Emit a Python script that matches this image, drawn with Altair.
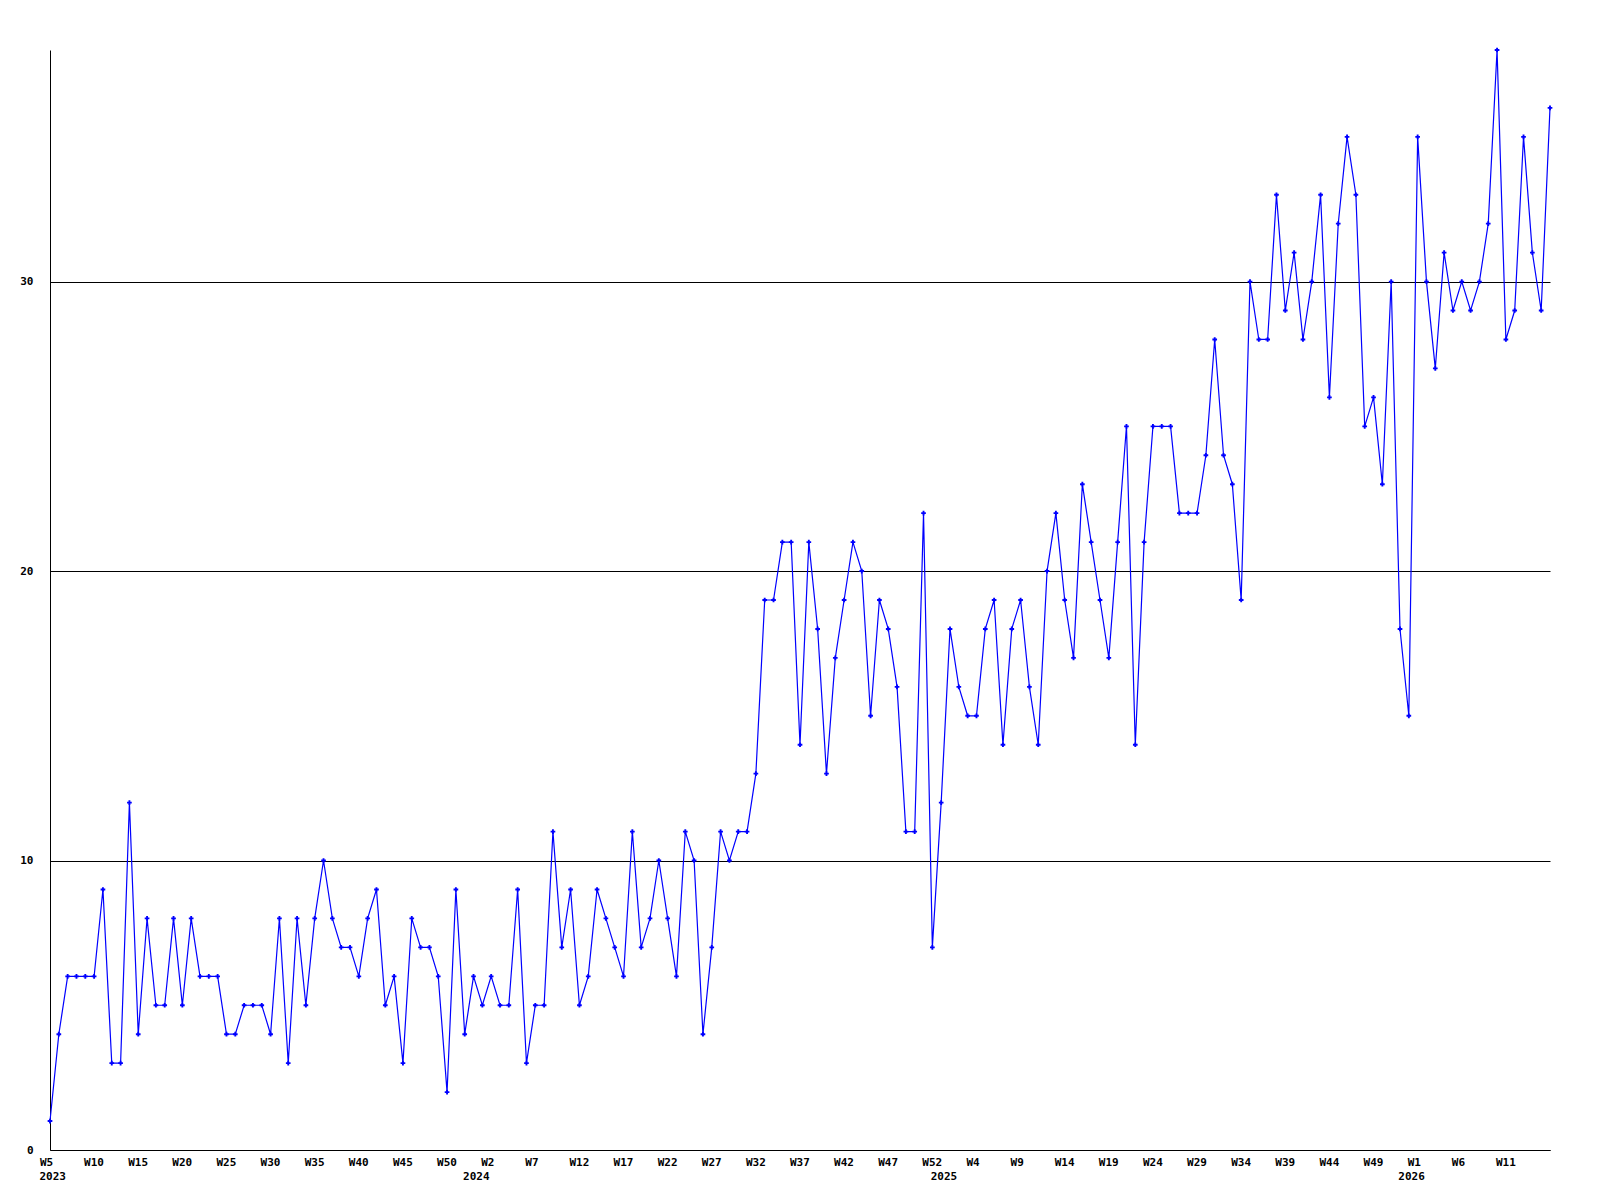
import altair as alt
import pandas as pd

# Weekly values, index 0 = 2023 W5 ... index 170
values = [
    1, 4, 6, 6, 6, 6, 9, 3, 3, 12, 4, 8, 5, 5, 8, 5, 8, 6, 6, 6,
    4, 4, 5, 5, 5, 4, 8, 3, 8, 5, 8, 10, 8, 7, 7, 6, 8, 9, 5, 6,
    3, 8, 7, 7, 6, 2, 9, 4, 6, 5, 6, 5, 5, 9, 3, 5, 5, 11, 7, 9,
    5, 6, 9, 8, 7, 6, 11, 7, 8, 10, 8, 6, 11, 10, 4, 7, 11, 10, 11, 11,
    13, 19, 19, 21, 21, 14, 21, 18, 13, 17, 19, 21, 20, 15, 19, 18, 16, 11, 11, 22,
    7, 12, 18, 16, 15, 15, 18, 19, 14, 18, 19, 16, 14, 20, 22, 19, 17, 23, 21, 19,
    17, 21, 25, 14, 21, 25, 25, 25, 22, 22, 22, 24, 28, 24, 23, 19, 30, 28, 28, 33,
    29, 31, 28, 30, 33, 26, 32, 35, 33, 25, 26, 23, 30, 18, 15, 35, 30, 27, 31, 29,
    30, 29, 30, 32, 38, 28, 29, 35, 31, 29, 36,
]
weeks = list(range(len(values)))

tick_positions = list(range(0, 166, 5))
tick_labels = [
    "W5", "W10", "W15", "W20", "W25", "W30", "W35", "W40", "W45", "W50",
    "W2", "W7", "W12", "W17", "W22", "W27", "W32", "W37", "W42", "W47", "W52",
    "W4", "W9", "W14", "W19", "W24", "W29", "W34", "W39", "W44", "W49",
    "W1", "W6", "W11",
]
year_labels = ["2023", "2024", "2025", "2026"]
year_positions = [0, 48, 101, 154]

W, H = 1500, 1100
FONT = "DejaVu Sans Mono"

df = pd.DataFrame({"week": weeks, "value": values})
years = pd.DataFrame({"week": year_positions, "year": year_labels})

label_array = "[" + ",".join("'" + s + "'" for s in tick_labels) + "]"

x_scale = alt.Scale(domain=[0, 170], nice=False, zero=False)

line = alt.Chart(df).mark_line(
    color="#0000ff", strokeWidth=1.2,
    point=alt.OverlayMarkDef(shape="cross", size=22, filled=True, color="#0000ff"),
).encode(
    x=alt.X("week:Q", scale=x_scale, title=None,
            axis=alt.Axis(values=tick_positions,
                          labelExpr=label_array + "[round(datum.value/5)]",
                          ticks=False, grid=False, labelAlign="left",
                          labelOffset=-10.5, labelFlush=False, labelOverlap=False,
                          labelBaseline="middle", labelPadding=12,
                          domainColor="black", labelColor="black",
                          labelFont=FONT, labelFontSize=11, labelFontWeight="bold")),
    y=alt.Y("value:Q", scale=alt.Scale(domain=[0, 38], nice=False), title=None,
            axis=alt.Axis(values=[0, 10, 20, 30], ticks=False, grid=True,
                          gridColor="black", gridOpacity=1, gridWidth=1,
                          domainColor="black", labelPadding=17, labelColor="black",
                          labelFont=FONT, labelFontSize=11, labelFontWeight="bold")),
)

year_text = alt.Chart(years).mark_text(
    align="left", baseline="middle", dx=-10.5,
    font=FONT, fontSize=11, fontWeight="bold", color="black",
).encode(
    x=alt.X("week:Q", scale=x_scale),
    y=alt.value(H + 27),
    text="year:N",
)

chart = alt.layer(line, year_text).properties(
    width=W, height=H,
    background="white",
    autosize=alt.AutoSizeParams(type="none"),
    padding={"left": 42, "top": 42, "right": 40, "bottom": 50},
).configure_view(stroke=None)

chart.save("out.html", embed_options={"renderer": "svg", "actions": False})
